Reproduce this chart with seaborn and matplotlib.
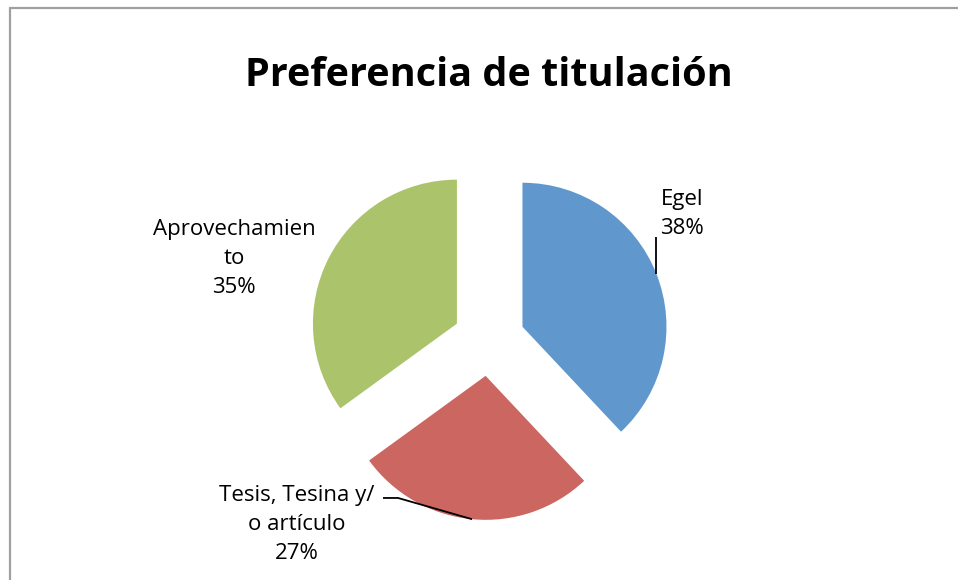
import numpy as np
import matplotlib
matplotlib.use("Agg")
import matplotlib.pyplot as plt
import seaborn as sns
from matplotlib.lines import Line2D

sns.set_theme(style="white")
plt.rcParams['font.family'] = ['Open Sans', 'DejaVu Sans']

title = "Preferencia de titulación"
labels = ["Egel", "Tesis, Tesina y/\no artículo", "Aprovechamien\nto"]
values = [38, 27, 35]
colors = ["#6097CD", "#CC6660", "#ABC46C"]

W, H = 958, 580
fig = plt.figure(figsize=(W / 100, H / 100), dpi=100)
fig.patch.set_facecolor("white")
ax = fig.add_axes([0, 0, 1, 1])

explode = [0.25] * len(values)
wedges, _ = ax.pie(values, colors=colors, startangle=90, counterclock=False,
                   explode=explode, radius=1.0,
                   wedgeprops=dict(linewidth=0))

# pixel scale: radius 1 = 144 px, centre at (489, 340) from top-left
s = 144.0
cx, cy = 489.0, 340.0
ax.set_xlim(-cx / s, (W - cx) / s)
ax.set_ylim(-(H - cy) / s, cy / s)
ax.set_aspect('auto')
ax.axis('off')

pcts = [f"{v / sum(values) * 100:.0f}%" for v in values]
label_pos = [(1.34, 0.875), (-1.335, -1.278), (-1.771, 0.569)]
fs = 16
for (x, y), lab, p in zip(label_pos, labels, pcts):
    ax.text(x, y, f"{lab}\n{p}", ha="center", va="center", fontsize=fs,
            color="black", linespacing=1.5)

def edge_point(w):
    th = np.deg2rad((w.theta1 + w.theta2) / 2)
    c = w.center
    return c[0] + w.r * np.cos(th), c[1] + w.r * np.sin(th)

# Egel leader: vertical
ex, ey = edge_point(wedges[0])
ax.plot([ex, ex], [ey, 0.715], color="black", lw=1.3, solid_capstyle="butt")
# Tesis leader
tx, ty = edge_point(wedges[1])
ax.plot([tx, -0.632, -0.736], [ty, -1.097, -1.097], color="black", lw=1.3,
        solid_capstyle="butt")

ax.text(0.0, 1.84, title, ha="center", va="center", fontsize=28.5,
        fontweight="bold", color="black")

# outer frame (top and left)
fig.add_artist(Line2D([9.5 / W, 1], [1 - 7.5 / H, 1 - 7.5 / H], color="#A0A0A0", lw=1.6,
                      transform=fig.transFigure))
fig.add_artist(Line2D([9.5 / W, 9.5 / W], [0, 1 - 7.5 / H], color="#A0A0A0", lw=1.6,
                      transform=fig.transFigure))

fig.savefig("out.png", dpi=100, facecolor="white")
